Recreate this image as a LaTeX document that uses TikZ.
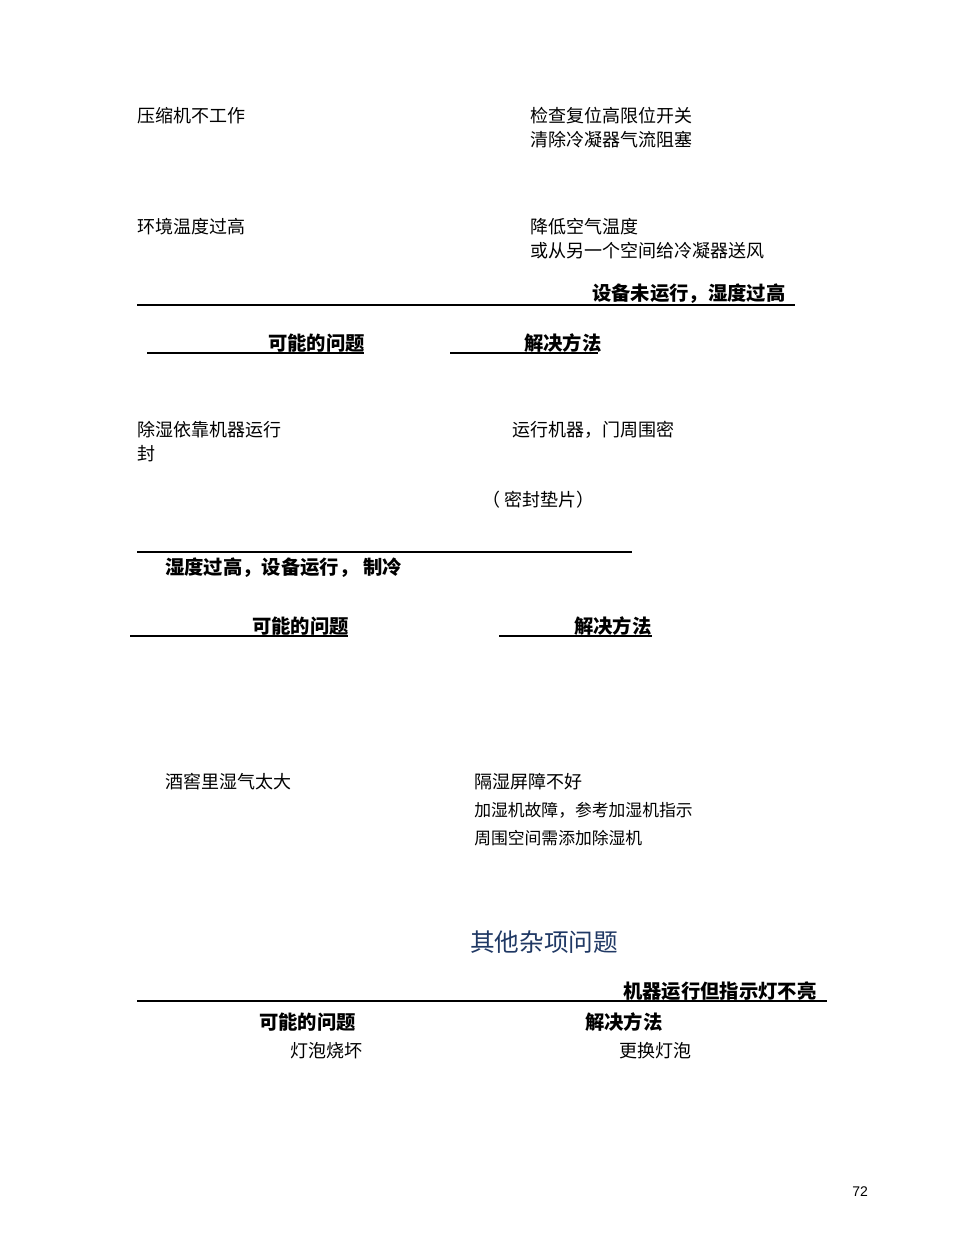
\documentclass[tikz,border=0pt]{standalone}
\usepackage{fontspec}
\setmainfont{Liberation Sans}
\newfontfamily\cjk{Noto Sans CJK SC}
\definecolor{headblue}{HTML}{1F3864}
\begin{document}
\begin{tikzpicture}[x=0.75pt,y=-0.75pt,
  body/.style={anchor=west,inner sep=0pt,font=\cjk\fontsize{13.5}{16}\selectfont},
  small/.style={anchor=west,inner sep=0pt,font=\cjk\fontsize{12.6}{15}\selectfont},
  head/.style={anchor=west,inner sep=0pt,font=\cjk\bfseries\fontsize{14.5}{17}\selectfont},
  rule/.style={line width=1pt}]
\useasboundingbox (0,0) rectangle (954,1235);
\node[body] (a1) at (137,116) {压缩机不工作};
\node[body] (a2) at (530,116) {检查复位高限位开关};
\node[body] (a3) at (530,140) {清除冷凝器气流阻塞};
\node[body] (a4) at (137,227) {环境温度过高};
\node[body] (a5) at (530,227) {降低空气温度};
\node[body] (a6) at (530,251) {或从另一个空间给冷凝器送风};
\node[head] (h1) at (592,294) {设备未运行，湿度过高};
\draw[rule] (137,305) -- (795,305);
\node[head] (h2) at (268,343) {可能的问题};
\draw[rule] (147,353) -- (364,353);
\node[head] (h3) at (524,343) {解决方法};
\draw[rule] (450,353) -- (598,353);
\node[body] (b1) at (137,430) {除湿依靠机器运行};
\node[body] (b2) at (137,454) {封};
\node[body] (b3) at (512,430) {运行机器，门周围密};
\node[body] (b4) at (482,500) {（ 密封垫片）};
\draw[rule] (137,552) -- (632,552);
\node[head] (h4) at (165,568) {湿度过高，设备运行， 制冷};
\node[head] (h5) at (252,626) {可能的问题};
\draw[rule] (130,636) -- (348,636);
\node[head] (h6) at (574,626) {解决方法};
\draw[rule] (499,636) -- (652,636);
\node[body] (c1) at (165,782) {酒窖里湿气太大};
\node[body] (c2) at (474,782) {隔湿屏障不好};
\node[small] (c3) at (474,810) {加湿机故障，参考加湿机指示};
\node[small] (c4) at (474,838) {周围空间需添加除湿机};
\node[anchor=west,inner sep=0pt,text=headblue,font=\cjk\fontsize{18.5}{22}\selectfont] (t) at (470,942) {其他杂项问题};
\node[head] (h7) at (623,991) {机器运行但指示灯不亮};
\draw[rule] (137,1001) -- (827,1001);
\node[head] (h8) at (259,1022) {可能的问题};
\node[head] (h9) at (585,1022) {解决方法};
\node[body] (d1) at (290,1051) {灯泡烧坏};
\node[body] (d2) at (619,1051) {更换灯泡};
\node[anchor=west,inner sep=0pt,font=\fontsize{10.5}{12}\selectfont] (pg) at (852,1192) {72};
\end{tikzpicture}
\end{document}
